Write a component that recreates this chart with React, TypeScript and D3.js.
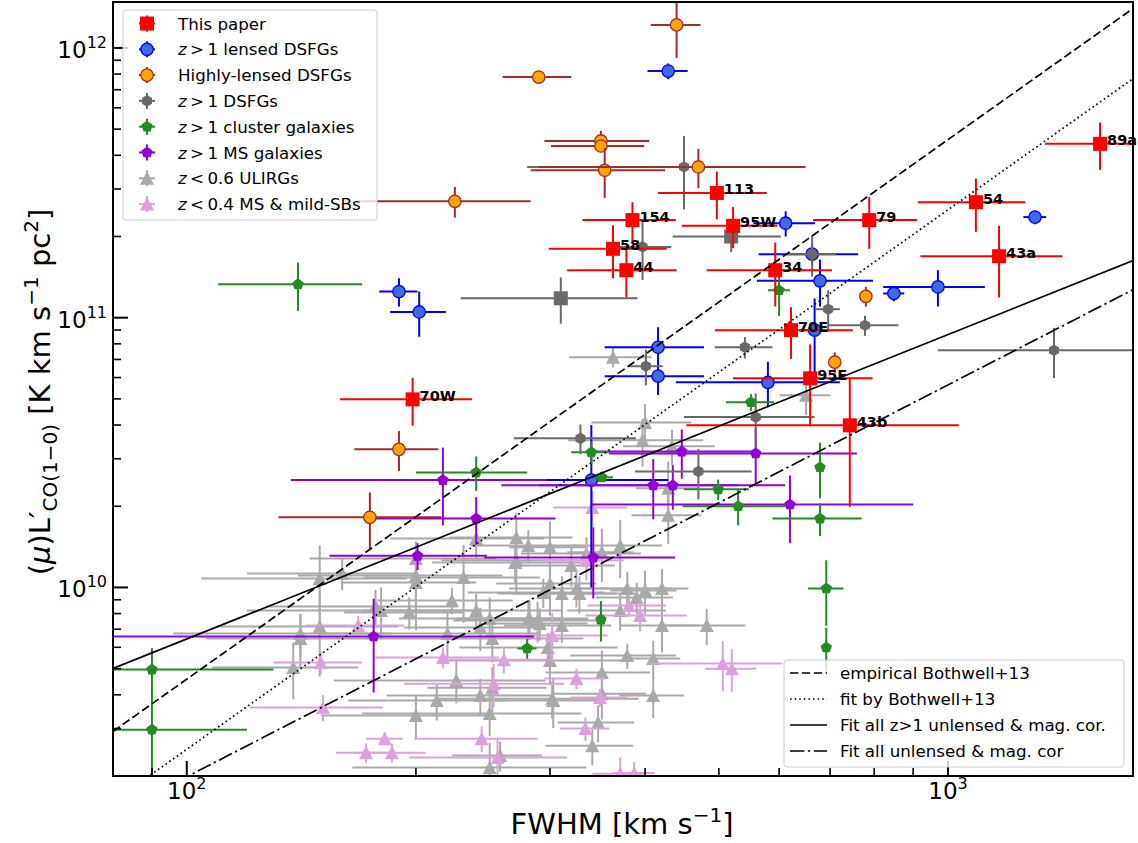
import React from 'react';
import * as d3 from 'd3';

const W = 1138;
const H = 843;
const PLOT = { left: 113, right: 1133, top: 2, bottom: 776 };
const X_DOMAIN = [80, 1750];
const Y_DOMAIN = [2e9, 1.48e12];

// This paper: [label, FWHM, dFWHM, L', dL']
const thisPaper: [string, number, number, number, number][] = [
  ['89a', 1584, 243, 4.41e11, 0.88e11],
  ['54', 1088, 175, 2.68e11, 0.6e11],
  ['43a', 1167, 247, 1.69e11, 0.5e11],
  ['79', 788, 123, 2.3e11, 0.5e11],
  ['113', 497, 81, 2.9e11, 0.58e11],
  ['95W', 522, 75, 2.19e11, 0.38e11],
  ['154', 385, 54, 2.3e11, 0.38e11],
  ['58', 363, 64, 1.8e11, 0.4e11],
  ['44', 378, 62, 1.5e11, 0.31e11],
  ['34', 593, 111, 1.5e11, 0.4e11],
  ['70E', 622, 128, 8.99e10, 1.95e10],
  ['95E', 659, 137, 5.96e10, 2.0e10],
  ['43b', 743, 290, 3.99e10, 2.0e10],
  ['70W', 198, 39, 4.98e10, 1.0e10],
];

// [FWHM, dFWHM, L', dL']
const lensedDSFGs: number[][] = [
  [429, 26, 8.21e11, 0.55e11],
  [1301, 45, 2.36e11, 0.14e11],
  [612, 57, 2.24e11, 0.24e11],
  [663, 99, 1.72e11, 0.15e11],
  [679, 118, 1.37e11, 0.27e11],
  [668, 30, 8.99e10, 2.8e10],
  [849, 27, 1.23e11, 0.08e11],
  [970, 148, 1.3e11, 0.2e11],
  [190, 11, 1.25e11, 0.15e11],
  [202, 17, 1.05e11, 0.2e11],
  [416, 62, 7.77e10, 1.45e10],
  [416, 62, 6.07e10, 0.9e10],
  [580, 141, 5.76e10, 1.1e10],
  [340, 89, 2.5e10, 1.5e10],
];

const highlyLensed: number[][] = [
  [440, 33, 1.217e12, 3e11],
  [290, 30, 7.8e11, 0.1e11],
  [350, 55, 4.52e11, 0.4e11],
  [350, 49, 4.33e11, 0.2e11],
  [354, 71, 3.52e11, 0.74e11],
  [470, 180, 3.62e11, 0.6e11],
  [225, 58, 2.7e11, 0.35e11],
  [190, 24, 3.25e10, 0.55e10],
  [174, 42, 1.82e10, 0.43e10],
  [780, 10, 1.2e11, 0.1e11],
  [710, 8, 6.84e10, 0.6e10],
];

const dsfgs: number[][] = [
  [450, 170, 3.62e11, 1.1e11],
  [397, 36, 1.83e11, 0.45e11],
  [663, 49, 1.72e11, 0.3e11],
  [541, 47, 7.77e10, 0.7e10],
  [401, 21, 6.61e10, 1.0e10],
  [696, 25, 1.075e11, 0.19e11],
  [778, 83, 9.37e10, 0.8e10],
  [1378, 408, 7.57e10, 1.6e10],
  [559, 109, 4.28e10, 0.95e10],
  [329, 60, 3.57e10, 0.45e10],
  [470, 82, 2.69e10, 0.57e10],
];

const dsfgsSquares: number[][] = [
  [310, 81, 1.18e11, 0.23e11],
  [519, 84, 2.0e11, 0.25e11],
];

const clusterGalaxies: number[][] = [
  [140, 30, 1.33e11, 0.27e11],
  [600, 20, 1.264e11, 0.25e11],
  [551, 40, 4.86e10, 0.35e10],
  [240, 40, 2.67e10, 0.39e10],
  [351, 12, 2.56e10, 0.1e10],
  [340, 20, 3.17e10, 0.3e10],
  [499, 49, 2.31e10, 0.2e10],
  [530, 82, 2.0e10, 0.3e10],
  [679, 10, 2.79e10, 0.65e10],
  [679, 91, 1.8e10, 0.25e10],
  [692, 37, 9.91e9, 2.7e9],
  [692, 10, 5.99e9, 1.1e9],
  [280, 8, 5.94e9, 0.5e9],
  [350, 5, 7.6e9, 1.3e9],
  [90, 40, 4.96e9, 1.0e9],
  [90, 30, 2.97e9, 1.2e9],
];

const msGalaxies: number[][] = [
  [217, 80, 2.5e10, 0.8e10],
  [240, 65, 1.8e10, 0.36e10],
  [201, 47, 1.31e10, 0.15e10],
  [342, 96, 1.29e10, 0.38e10],
  [410, 120, 2.39e10, 0.6e10],
  [435, 176, 2.39e10, 0.45e10],
  [447, 106, 3.19e10, 0.66e10],
  [559, 200, 3.14e10, 0.75e10],
  [620, 280, 2.03e10, 0.57e10],
  [176, 110, 6.58e9, 2.5e9],
];

const ulirgs: number[][] = [
  [149.5, 45, 1.08e10, 0.35e10], [160, 40, 1.127e10, 0.15e10], [141, 45, 6.75e9, 1.2e9],
  [141, 35, 6.47e9, 1.5e9], [149.5, 40, 7.17e9, 2.5e9], [138, 30, 5.05e9, 1.2e9],
  [177, 50, 8.5e9, 1.3e9], [180, 60, 8.21e9, 1.8e9], [200, 55, 1.281e10, 0.2e10],
  [200, 60, 1.108e10, 0.3e10], [200, 40, 1.044e10, 0.35e10], [196, 35, 8.08e9, 1.1e9],
  [223, 45, 8.95e9, 1.0e9], [231, 60, 1.089e10, 0.35e10], [240, 55, 1.52e10, 0.25e10],
  [240, 70, 8.21e9, 1.3e9], [250, 60, 7.67e9, 1.5e9], [220, 70, 6.75e9, 1.3e9],
  [243, 50, 7.11e9, 1.3e9], [252, 80, 6.47e9, 1.2e9], [226, 70, 4.52e9, 0.8e9],
  [243, 60, 3.98e9, 0.6e9], [252, 45, 4.25e9, 0.8e9], [213, 50, 3.81e9, 0.6e9],
  [200, 50, 3.35e9, 0.6e9], [250, 80, 3.41e9, 0.6e9], [250, 85, 2.15e9, 0.5e9],
  [270, 60, 1.238e10, 0.2e10], [300, 45, 1.035e10, 0.25e10], [294, 60, 9.58e9, 1.2e9],
  [311, 55, 9.5e9, 1.5e9], [328, 60, 9.5e9, 1.5e9], [320, 45, 1.207e10, 0.2e10],
  [281, 55, 7.61e9, 1.2e9], [289, 65, 7.54e9, 1.3e9], [311, 50, 7.23e9, 1.0e9],
  [298, 70, 5.99e9, 0.8e9], [300, 85, 5.36e9, 1.0e9], [302, 90, 3.87e9, 0.6e9],
  [341, 45, 2.59e9, 0.4e9], [347, 40, 3.16e9, 0.5e9], [271, 50, 1.532e10, 0.35e10],
  [281, 45, 1.432e10, 0.2e10], [300, 35, 1.408e10, 0.35e10], [271, 55, 1.26e10, 0.3e10],
  [335, 60, 1.337e10, 0.2e10], [351, 35, 1.349e10, 0.3e10], [371, 50, 1.432e10, 0.35e10],
  [325, 60, 9.92e9, 1.5e9], [379, 55, 9.92e9, 1.5e9], [400, 40, 9.75e9, 1.8e9],
  [421, 35, 9.92e9, 1.8e9], [390, 45, 9.18e9, 1.2e9], [371, 55, 8.21e9, 1.3e9],
  [282, 55, 7.67e9, 1.3e9], [291, 45, 7.35e9, 1.0e9], [421, 50, 7.23e9, 1.5e9],
  [482, 60, 7.23e9, 1.1e9], [379, 60, 5.59e9, 0.6e9], [410, 35, 5.45e9, 0.9e9],
  [351, 55, 4.84e9, 1.0e9], [351, 50, 4.04e9, 0.8e9], [410, 40, 3.98e9, 0.7e9],
  [303, 50, 3.81e9, 0.8e9], [258, 35, 2.38e9, 0.3e9], [363, 45, 7.14e10, 0.6e10],
  [400, 60, 4.09e10, 0.7e10], [397, 80, 3.51e10, 0.7e10], [434, 60, 3.34e10, 0.5e10],
  [429, 40, 2.33e10, 0.6e10], [429, 45, 1.85e10, 0.4e10], [651, 50, 5.16e10, 0.8e10],
];

const msMildSBs: number[][] = [
  [168, 25, 7.23e9, 0.6e9], [150, 20, 5.27e9, 0.5e9], [151, 30, 3.59e9, 0.4e9],
  [172, 15, 2.44e9, 0.2e9], [182, 10, 2.75e9, 0.15e9], [186, 20, 2.44e9, 0.2e9],
  [217, 40, 5.5e9, 0.5e9], [253, 60, 4.4e9, 0.8e9], [244, 45, 2.75e9, 0.3e9],
  [256, 60, 2.34e9, 0.4e9], [302, 55, 6.64e9, 1.4e9], [261, 40, 5.4e9, 0.6e9],
  [325, 30, 4.6e9, 0.4e9], [334, 25, 3.0e9, 0.3e9], [341, 38, 1.98e10, 0.3e10],
  [335, 40, 1.26e10, 0.2e10], [381, 45, 8.58e9, 0.8e9], [394, 60, 7.87e9, 1.0e9],
  [506, 100, 5.22e9, 1.1e9], [520, 40, 5.0e9, 0.9e9], [349, 30, 3.91e9, 0.3e9],
  [371, 30, 2.04e9, 0.3e9], [387, 25, 2.05e9, 0.2e9],
];

// log10 L' = slope * log10 FWHM + intercept
const relations = [
  { label: 'empirical Bothwell+13', slope: 2.0, intercept: 5.66, dash: '8.3,3.6' },
  { label: 'fit by Bothwell+13', slope: 2.0, intercept: 5.4, dash: '1.6,3' },
  { label: 'Fit all z>1 unlensed & mag. cor.', slope: 1.1285, intercept: 7.552, dash: '' },
  { label: 'Fit all unlensed & mag. cor', slope: 1.4526, intercept: 6.393, dash: '14.4,3.6,2.25,3.6' },
];

const xMajor = [100, 1000];
const xMinor = [90, 200, 300, 400, 500, 600, 700, 800, 900];
const yMajor = [1e10, 1e11, 1e12];
const yMinor = [3e9, 4e9, 5e9, 6e9, 7e9, 8e9, 9e9, 2e10, 3e10, 4e10, 5e10, 6e10, 7e10, 8e10, 9e10,
  2e11, 3e11, 4e11, 5e11, 6e11, 7e11, 8e11, 9e11];

const FONT = 'DejaVu Sans, Verdana, sans-serif';

function polygon(n: number, r: number, rot = -Math.PI / 2) {
  const pts = d3.range(n).map((i) => {
    const a = rot + (i * 2 * Math.PI) / n;
    return [r * Math.cos(a), r * Math.sin(a)];
  });
  return 'M' + pts.map((p) => p[0].toFixed(2) + ',' + p[1].toFixed(2)).join('L') + 'Z';
}

type MarkerKind = 'square' | 'circle' | 'hexagon' | 'pentagon' | 'triangle';

function Marker({ kind, x, y, fill, stroke }: { kind: MarkerKind; x: number; y: number; fill: string; stroke: string }) {
  if (kind === 'square') return <rect x={x - 7} y={y - 7} width={14} height={14} fill={fill} />;
  if (kind === 'circle') return <circle cx={x} cy={y} r={6.2} fill={fill} stroke={stroke} strokeWidth={1.3} />;
  if (kind === 'hexagon') return <path transform={`translate(${x},${y})`} d={polygon(6, 5.8)} fill={fill} />;
  if (kind === 'pentagon') return <path transform={`translate(${x},${y})`} d={polygon(5, 6)} fill={fill} />;
  return <path transform={`translate(${x},${y})`} d="M0,-7L7,6.5L-7,6.5Z" fill={fill} />;
}

export default function App() {
  const x = d3.scaleLog().domain(X_DOMAIN).range([PLOT.left, PLOT.right]);
  const y = d3.scaleLog().domain(Y_DOMAIN).range([PLOT.bottom, PLOT.top]);

  const series = (data: number[][], kind: MarkerKind, fill: string, bar: string, key: string) => (
    <g key={key}>
      {data.map((d, i) => {
        const [f, df, l, dl] = d;
        const cx = x(f);
        const cy = y(l);
        return (
          <g key={i}>
            <line x1={x(Math.max(f - df, 1))} x2={x(f + df)} y1={cy} y2={cy} stroke={bar} strokeWidth={2} />
            <line x1={cx} x2={cx} y1={y(Math.max(l - dl, 1e8))} y2={y(l + dl)} stroke={bar} strokeWidth={2} />
            <Marker kind={kind} x={cx} y={cy} fill={fill} stroke={bar} />
          </g>
        );
      })}
    </g>
  );

  const relPath = (s: number, b: number) => {
    const fs = [X_DOMAIN[0], X_DOMAIN[1]];
    return d3.line<number>().x((f) => x(f)).y((f) => y(Math.pow(10, b + s * Math.log10(f))))(fs) || '';
  };

  const legend1 = [
    { label: 'This paper', kind: 'square' as MarkerKind, fill: '#ff0000', bar: '#ff0000' },
    { label: 'lensed DSFGs', pre: 'z', op: '>', num: '1', kind: 'circle' as MarkerKind, fill: '#4169e1', bar: '#0000ff' },
    { label: 'Highly-lensed DSFGs', kind: 'circle' as MarkerKind, fill: '#ffa500', bar: '#a52a2a' },
    { label: 'DSFGs', pre: 'z', op: '>', num: '1', kind: 'hexagon' as MarkerKind, fill: '#696969', bar: '#696969' },
    { label: 'cluster galaxies', pre: 'z', op: '>', num: '1', kind: 'pentagon' as MarkerKind, fill: '#228b22', bar: '#228b22' },
    { label: 'MS galaxies', pre: 'z', op: '>', num: '1', kind: 'pentagon' as MarkerKind, fill: '#9400d3', bar: '#9400d3' },
    { label: 'ULIRGs', pre: 'z', op: '<', num: '0.6', kind: 'triangle' as MarkerKind, fill: '#a9a9a9', bar: '#a9a9a9' },
    { label: 'MS & mild-SBs', pre: 'z', op: '<', num: '0.4', kind: 'triangle' as MarkerKind, fill: '#dda0dd', bar: '#dda0dd' },
  ];

  return (
    <svg width={W} height={H} style={{ display: 'block', position: 'absolute', left: 0, top: 0 }} fontFamily={FONT}>
      <defs>
        <clipPath id="plotclip">
          <rect x={PLOT.left} y={PLOT.top} width={PLOT.right - PLOT.left} height={PLOT.bottom - PLOT.top} />
        </clipPath>
      </defs>
      <rect x={0} y={0} width={W} height={H} fill="#fff" />

      <g clipPath="url(#plotclip)">
        {series(ulirgs, 'triangle', '#a9a9a9', '#a9a9a9', 'ulirg')}
        {series(msMildSBs, 'triangle', '#dda0dd', '#dda0dd', 'mild')}
        {series(lensedDSFGs, 'circle', '#4169e1', '#0000ff', 'lensed')}
        {series(msGalaxies, 'pentagon', '#9400d3', '#9400d3', 'ms')}
        {series(clusterGalaxies, 'pentagon', '#228b22', '#228b22', 'cluster')}
        {series(dsfgs, 'hexagon', '#696969', '#696969', 'dsfg')}
        {series(dsfgsSquares, 'square', '#696969', '#696969', 'dsfgsq')}
        {series(highlyLensed, 'circle', '#ffa500', '#a52a2a', 'hl')}
        {series(thisPaper.map((d) => [d[1], d[2], d[3], d[4]]), 'square', '#ff0000', '#ff0000', 'tp')}
        {relations.map((r, i) => (
          <path key={i} d={relPath(r.slope, r.intercept)} fill="none" stroke="#000" strokeWidth={1.7}
            strokeDasharray={r.dash || undefined} />
        ))}
      </g>

      {thisPaper.map((d, i) => (
        <text key={i} x={x(d[1]) + 7} y={y(d[3]) + 1.5} fontSize={14.5} fontWeight="bold" fill="#000">{d[0]}</text>
      ))}

      {/* spines */}
      <rect x={PLOT.left} y={PLOT.top} width={PLOT.right - PLOT.left} height={PLOT.bottom - PLOT.top}
        fill="none" stroke="#000" strokeWidth={2} />

      {/* ticks */}
      {xMajor.map((t) => (
        <g key={'xM' + t}>
          <line x1={x(t)} x2={x(t)} y1={PLOT.bottom} y2={PLOT.bottom - 15} stroke="#000" strokeWidth={2} />
          <text x={x(t)} y={799} fontSize={23} textAnchor="middle">10<tspan fontSize={16} dy={-10}>{Math.round(Math.log10(t))}</tspan></text>
        </g>
      ))}
      {xMinor.map((t) => (
        <line key={'xm' + t} x1={x(t)} x2={x(t)} y1={PLOT.bottom} y2={PLOT.bottom - 8} stroke="#000" strokeWidth={1.6} />
      ))}
      {yMajor.map((t) => (
        <g key={'yM' + t}>
          <line x1={PLOT.left} x2={PLOT.left + 15} y1={y(t)} y2={y(t)} stroke="#000" strokeWidth={2} />
          <text x={107} y={y(t) + 10} fontSize={23} textAnchor="end">10<tspan fontSize={16} dy={-10}>{Math.round(Math.log10(t))}</tspan></text>
        </g>
      ))}
      {yMinor.map((t) => (
        <line key={'ym' + t} x1={PLOT.left} x2={PLOT.left + 8} y1={y(t)} y2={y(t)} stroke="#000" strokeWidth={1.6} />
      ))}

      {/* axis labels */}
      <text x={622} y={834} fontSize={29} textAnchor="middle">
        FWHM [km s<tspan fontSize={20} dy={-12}>−1</tspan><tspan dy={12}>]</tspan>
      </text>
      <text transform="translate(50,392) rotate(-90)" fontSize={29} textAnchor="middle">
        (<tspan fontStyle="italic">μ</tspan>)L′<tspan fontSize={20} dy={7}>CO(1−0)</tspan>
        <tspan dy={-7}> [K km s</tspan><tspan fontSize={20} dy={-12}>−1</tspan><tspan dy={12}> pc</tspan>
        <tspan fontSize={20} dy={-12}>2</tspan><tspan dy={12}>]</tspan>
      </text>

      {/* legend 1 */}
      <g>
        <rect x={123} y={10} width={254} height={210} rx={3} fill="#fff" fillOpacity={0.8} stroke="#cccccc" strokeWidth={1} />
        {legend1.map((e, i) => {
          const ly = 23.5 + i * 25.8;
          return (
            <g key={i}>
              <line x1={139} x2={155} y1={ly} y2={ly} stroke={e.bar} strokeWidth={2} />
              <line x1={147} x2={147} y1={ly - 8} y2={ly + 8} stroke={e.bar} strokeWidth={2} />
              <Marker kind={e.kind} x={147} y={ly} fill={e.fill} stroke={e.bar} />
              <text x={178} y={ly + 6} fontSize={16.7}>
                {e.pre ? (
                  <>
                    <tspan fontStyle="italic">{e.pre}</tspan>
                    <tspan>{'\u2009' + e.op + '\u2009' + e.num + ' '}</tspan>
                  </>
                ) : null}
                {e.label}
              </text>
            </g>
          );
        })}
      </g>

      {/* legend 2 */}
      <g>
        <rect x={784} y={660} width={340} height={107} rx={3} fill="#fff" fillOpacity={0.8} stroke="#cccccc" strokeWidth={1} />
        {relations.map((r, i) => (
          <g key={i}>
            <line x1={790} x2={827} y1={673 + i * 26} y2={673 + i * 26} stroke="#000" strokeWidth={1.7}
              strokeDasharray={r.dash || undefined} />
            <text x={840} y={679 + i * 26} fontSize={16.7}>{r.label}</text>
          </g>
        ))}
      </g>
    </svg>
  );
}
